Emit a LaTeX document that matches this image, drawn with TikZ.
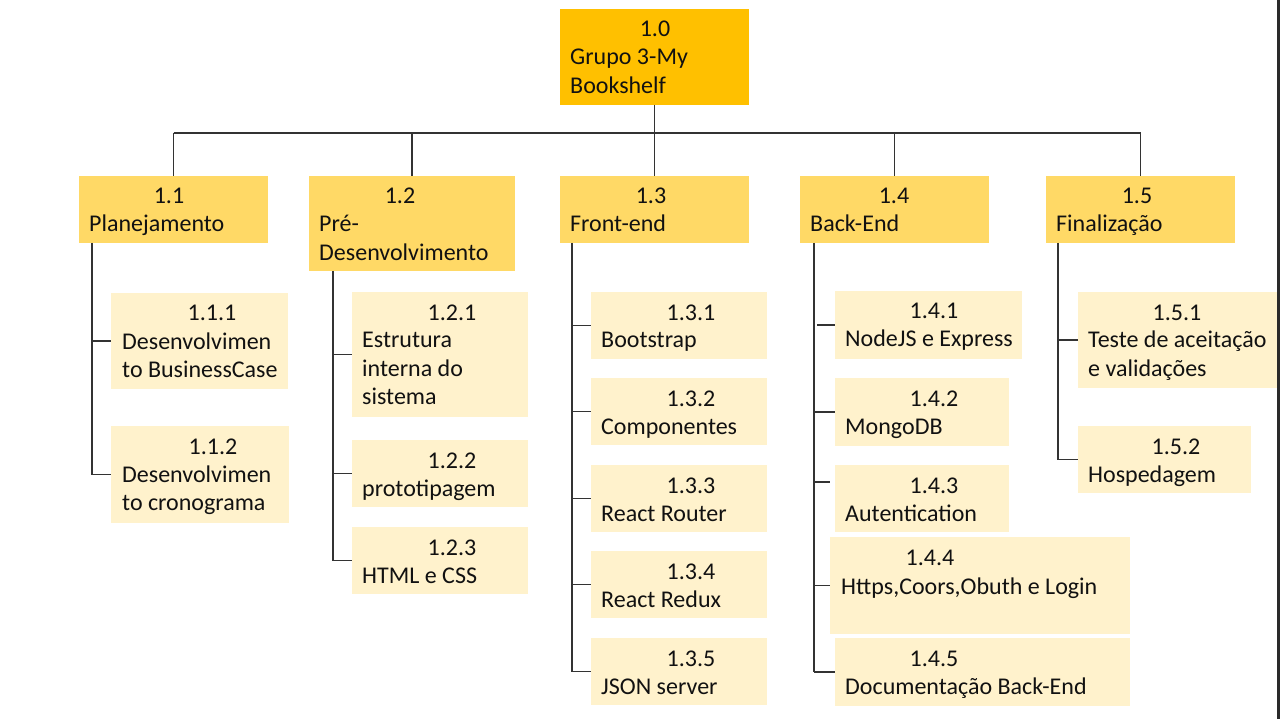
\documentclass[tikz,border=0pt]{standalone}
\usepackage{fontspec}
\setmainfont{Carlito}
\usetikzlibrary{calc}
\definecolor{topfill}{HTML}{FFC000}
\definecolor{midfill}{HTML}{FFD966}
\definecolor{leaffill}{HTML}{FFF2CC}
\definecolor{ink}{HTML}{111111}
\definecolor{linecol}{HTML}{333333}
\definecolor{edgecol}{HTML}{2A2A2A}
\newcommand\wbsfont{\fontsize{24}{28.5}\selectfont}
% box: name, left, top, right, bottom, style
\newcommand\wbsbox[6]{\node[#6, minimum width={#4-#2}, minimum height={#5-#3}] (#1) at (#2,#3) {};}
% stacked left-aligned lines whose baseline is the first line
\newcommand\wbslines[1]{\begin{tabular}[t]{@{}l@{}}#1\end{tabular}}
\begin{document}
\begin{tikzpicture}[x=1pt,y=-1pt,
  box/.style={draw=none, inner sep=0pt, outer sep=0pt, anchor=north west},
  rootbox/.style={box, fill=topfill},
  phasebox/.style={box, fill=midfill},
  taskbox/.style={box, fill=leaffill},
  num/.style={anchor=base, inner sep=0pt, text=ink, font=\wbsfont, yshift=-1pt},
  lbl/.style={anchor=base west, inner sep=0pt, text=ink, font=\wbsfont, yshift=-1pt},
  link/.style={draw=linecol, line width=1.4pt}]
\useasboundingbox (0,0) rectangle (1280,719);
\fill[white] (0,0) rectangle (1280,719);

% ---- boxes ----
\wbsbox{b10}{560}{9}{749}{105}{rootbox}
\wbsbox{b11}{79}{176}{268}{243}{phasebox}
\wbsbox{b12}{309}{176}{515}{271}{phasebox}
\wbsbox{b13}{560}{176}{749}{243}{phasebox}
\wbsbox{b14}{800}{176}{989}{243}{phasebox}
\wbsbox{b15}{1046}{176}{1235}{243}{phasebox}
\wbsbox{b111}{111}{293}{288}{389}{taskbox}
\wbsbox{b112}{111}{426}{289}{523}{taskbox}
\wbsbox{b121}{352}{292}{528}{417}{taskbox}
\wbsbox{b122}{352}{440}{528}{507}{taskbox}
\wbsbox{b123}{352}{527}{528}{594}{taskbox}
\wbsbox{b131}{591}{292}{767}{359}{taskbox}
\wbsbox{b132}{591}{378}{767}{445}{taskbox}
\wbsbox{b133}{591}{465}{767}{532}{taskbox}
\wbsbox{b134}{591}{551}{767}{618}{taskbox}
\wbsbox{b135}{591}{638}{767}{705}{taskbox}
\wbsbox{b141}{835}{291}{1022}{359}{taskbox}
\wbsbox{b142}{835}{378}{1009}{446}{taskbox}
\wbsbox{b143}{835}{465}{1009}{532}{taskbox}
\wbsbox{b144}{830}{537}{1130}{634}{taskbox}
\wbsbox{b145}{835}{638}{1130}{706}{taskbox}
\wbsbox{b151}{1078}{292}{1279}{388}{taskbox}
\wbsbox{b152}{1078}{426}{1251}{493}{taskbox}

% ---- texts ----
\node[num] (n10) at (655,36) {1.0};
\node[lbl] (l10) at (570,64) {\wbslines{Grupo 3-My\\Bookshelf}};
\node[num] (n11) at (169,203) {1.1};
\node[lbl] (l11) at (89,231) {Planejamento};
\node[num] (n12) at (400,203) {1.2};
\node[lbl] (l12) at (319,231) {\wbslines{Pré-\\Desenvolvimento}};
\node[num] (n13) at (651,203) {1.3};
\node[lbl] (l13) at (570,231) {Front-end};
\node[num] (n14) at (894,203) {1.4};
\node[lbl] (l14) at (810,231) {Back-End};
\node[num] (n15) at (1137,203) {1.5};
\node[lbl] (l15) at (1056,231) {Finalização};

\node[num] (n111) at (212,320) {1.1.1};
\node[lbl] (l111) at (122,348) {\wbslines{Desenvolvimen\\to BusinessCase}};
\node[num] (n112) at (213,453) {1.1.2};
\node[lbl] (l112) at (122,481) {\wbslines{Desenvolvimen\\to cronograma}};

\node[num] (n121) at (452,319) {1.2.1};
\node[lbl] (l121) at (362,347) {\wbslines{Estrutura\\interna do\\sistema}};
\node[num] (n122) at (452,467) {1.2.2};
\node[lbl] (l122) at (362,495) {prototipagem};
\node[num] (n123) at (452,554) {1.2.3};
\node[lbl] (l123) at (362,582) {HTML e CSS};

\node[num] (n131) at (691,319) {1.3.1};
\node[lbl] (l131) at (601,347) {Bootstrap};
\node[num] (n132) at (691,405) {1.3.2};
\node[lbl] (l132) at (601,433) {Componentes};
\node[num] (n133) at (691,492) {1.3.3};
\node[lbl] (l133) at (601,520) {React Router};
\node[num] (n134) at (691,578) {1.3.4};
\node[lbl] (l134) at (601,606) {React Redux};
\node[num] (n135) at (691,665) {1.3.5};
\node[lbl] (l135) at (601,693) {JSON server};

\node[num] (n141) at (934,318) {1.4.1};
\node[lbl] (l141) at (845,346) {NodeJS e Express};
\node[num] (n142) at (934,405) {1.4.2};
\node[lbl] (l142) at (845,433) {MongoDB};
\node[num] (n143) at (934,492) {1.4.3};
\node[lbl] (l143) at (845,520) {Autentication};
\node[num] (n144) at (930,564) {1.4.4};
\node[lbl] (l144) at (841,593) {Https,Coors,Obuth e Login};
\node[num] (n145) at (934,665) {1.4.5};
\node[lbl] (l145) at (845,693) {Documentação Back-End};

\node[num] (n151) at (1177,319) {1.5.1};
\node[lbl] (l151) at (1088,347) {\wbslines{Teste de aceitação\\e validações}};
\node[num] (n152) at (1176,453) {1.5.2};
\node[lbl] (l152) at (1088,481) {Hospedagem};

% ---- connectors: root to phases ----
\coordinate (bar) at (0,133);
\draw[link] (b10.south) -- (b10.south |- bar);
\draw[link] (b11.north |- bar) -- (b15.north |- bar);
\foreach \p in {b11,b12,b13,b14,b15}
  \draw[link] (\p.north |- bar) -- (\p.north);

% ---- connectors: phases to tasks ----
\coordinate (t11) at (92,0);
\coordinate (t12) at (333,0);
\coordinate (t13) at (572,0);
\coordinate (t14) at (814,0);
\coordinate (t15) at (1058,0);

\draw[link] (b11.south -| t11) -- (t11 |- b112.west);
\foreach \c in {b111,b112} \draw[link] (t11 |- \c.west) -- (\c.west);

\draw[link] (b12.south -| t12) -- (t12 |- b123.west);
\foreach \c in {b121,b122,b123} \draw[link] (t12 |- \c.west) -- (\c.west);

\draw[link] (b13.south -| t13) -- (t13 |- b135.west);
\foreach \c in {b131,b132,b133,b134,b135} \draw[link] (t13 |- \c.west) -- (\c.west);

\draw[link] (b14.south -| t14) -- (t14 |- b145.west);
\coordinate (s141) at (817,0);
\draw[link] (s141 |- b141.west) -- (b141.west);
\coordinate (s143) at (830,482);
\draw[link] (t14 |- s143) -- (s143);
\foreach \c in {b142,b144,b145} \draw[link] (t14 |- \c.west) -- (\c.west);

\draw[link] (b15.south -| t15) -- (t15 |- b152.west);
\foreach \c in {b151,b152} \draw[link] (t15 |- \c.west) -- (\c.west);

% ---- right frame edge ----
\fill[edgecol] (1277,0) rectangle (1280,719);
\end{tikzpicture}
\end{document}
